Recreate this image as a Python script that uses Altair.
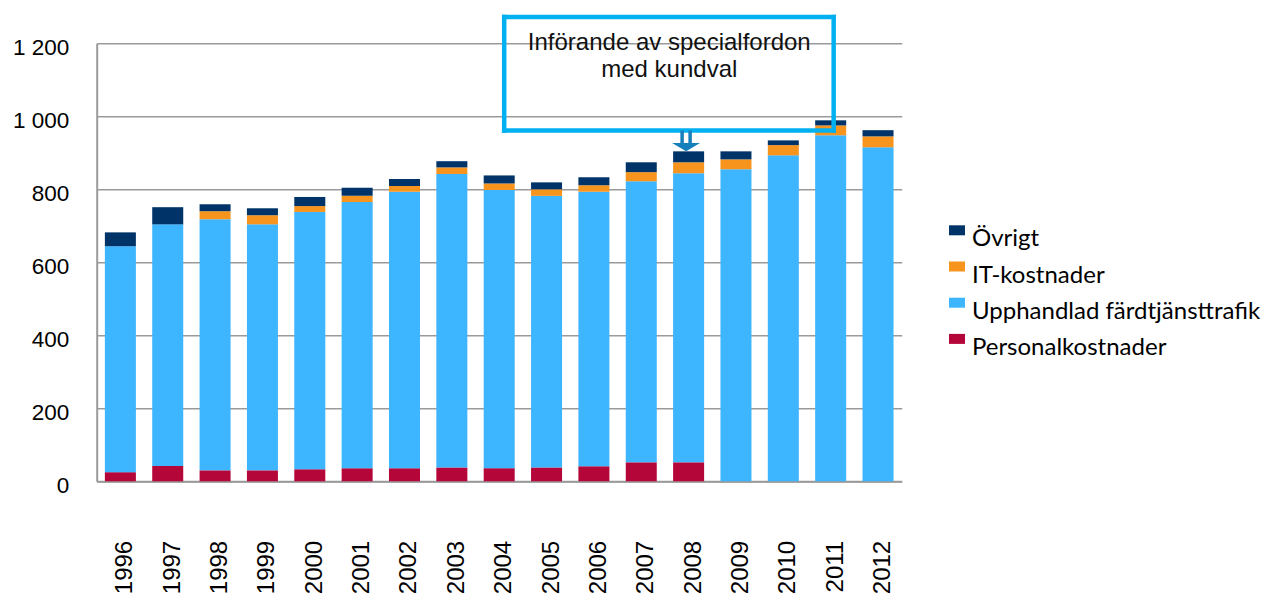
import altair as alt
import pandas as pd

years = [str(y) for y in range(1996, 2013)]
personal = [25, 42, 30, 30, 33, 36, 36, 38, 36, 38, 41, 52, 52, 0, 0, 0, 0]
upphandlad = [619, 662, 688, 674, 705, 729, 757, 804, 762, 744, 752, 770, 792, 855, 893, 948, 915]
it_kostnader = [0, 0, 22, 25, 16, 17, 16, 18, 18, 18, 18, 25, 30, 27, 28, 27, 30]
ovrigt = [38, 47, 19, 19, 25, 22, 19, 17, 22, 19, 22, 27, 30, 22, 13, 14, 17]

categories = ["Övrigt", "IT-kostnader", "Upphandlad färdtjänsttrafik", "Personalkostnader"]
colors = ["#003468", "#F7941E", "#3DB5FF", "#B5063A"]
y_ticks = [0, 200, 400, 600, 800, 1000, 1200]
note_lines = ["Införande av specialfordon", "med kundval"]

series = [
    ("Personalkostnader", personal, 0),
    ("Upphandlad färdtjänsttrafik", upphandlad, 1),
    ("IT-kostnader", it_kostnader, 2),
    ("Övrigt", ovrigt, 3),
]
rows = []
for i, yr in enumerate(years):
    for cat, vals, o in series:
        rows.append({"year": yr, "cat": cat, "value": vals[i], "ord": o})
df = pd.DataFrame(rows)

GRAY = "#9a9a9a"
BOX = "#00B0F0"
ARROW = "#1680BC"

x_enc = alt.X(
    "year:N",
    sort=years,
    scale=alt.Scale(domain=years, paddingInner=0.345, paddingOuter=0.1725),
    title=None,
    axis=alt.Axis(
        labelAngle=270,
        labelFont="Liberation Sans",
        labelFontSize=24,
        labelColor="#000000",
        labelPadding=59,
        labelOffset=5,
        ticks=False,
        domain=True,
        domainColor=GRAY,
        domainWidth=2,
        grid=False,
    ),
)

bars = alt.Chart(df).mark_bar().encode(
    x=x_enc,
    y=alt.Y(
        "value:Q",
        stack="zero",
        scale=alt.Scale(domain=[0, 1200], nice=False),
        title=None,
        axis=alt.Axis(
            values=y_ticks,
            labelExpr="replace(format(datum.value, ','), ',', ' ')",
            labelFont="Liberation Sans",
            labelFontSize=22.5,
            labelColor="#000000",
            labelPadding=28,
            labelOffset=4,
            ticks=False,
            domain=True,
            domainColor=GRAY,
            domainWidth=2,
            grid=True,
            gridColor=GRAY,
            gridWidth=1.5,
        ),
    ),
    color=alt.Color(
        "cat:N",
        sort=categories,
        scale=alt.Scale(domain=categories, range=colors),
        legend=alt.Legend(
            title=None,
            orient="none",
            legendX=848.3,
            legendY=184,
            symbolType="M-1,-1.75H1V-0.5H-1Z",
            symbolSize=256,
            symbolStrokeWidth=0,
            labelFont="Lato",
            labelFontSize=24,
            labelColor="#000000",
            labelOffset=3,
            rowPadding=10.2,
            padding=0,
            labelLimit=400,
        ),
    ),
    order=alt.Order("ord:Q", sort="ascending"),
)

box_df = pd.DataFrame({"year": ["2004"], "year2": ["2011"], "ytop": [1272], "ybot": [961]})
right_df = pd.DataFrame({"year": ["2011"], "ytop": [1272], "ybot": [961]})

box_top = alt.Chart(box_df).mark_rule(
    color=BOX, strokeWidth=4.5, xOffset=5, x2Offset=3, strokeCap="square"
).encode(x=alt.X("year:N", title=None), x2="year2", y=alt.Y("ytop:Q", title=None))
box_bot = alt.Chart(box_df).mark_rule(
    color=BOX, strokeWidth=4.5, xOffset=5, x2Offset=3, strokeCap="square"
).encode(x=alt.X("year:N", title=None), x2="year2", y=alt.Y("ybot:Q", title=None))
box_left = alt.Chart(box_df).mark_rule(
    color=BOX, strokeWidth=4.5, xOffset=5, strokeCap="square"
).encode(x=alt.X("year:N", title=None), y=alt.Y("ytop:Q", title=None), y2="ybot")
box_right = alt.Chart(right_df).mark_rule(
    color=BOX, strokeWidth=4.5, xOffset=3, strokeCap="square"
).encode(x=alt.X("year:N", title=None), y=alt.Y("ytop:Q", title=None), y2="ybot")

text_df = pd.DataFrame({"year": ["2007", "2007"], "line": note_lines, "yv": [1181, 1108]})
note = alt.Chart(text_df).mark_text(
    font="Liberation Sans", fontSize=24, align="center", baseline="alphabetic",
    xOffset=28, color="#111111"
).encode(x=alt.X("year:N", title=None), y=alt.Y("yv:Q", title=None), text="line:N")

shaft_df = pd.DataFrame({"year": ["2008"], "y1": [961], "y2": [921]})
shaft1 = alt.Chart(shaft_df).mark_rule(color=ARROW, strokeWidth=3.5, xOffset=-6.5).encode(
    x=alt.X("year:N", title=None), y=alt.Y("y1:Q", title=None), y2="y2"
)
shaft2 = alt.Chart(shaft_df).mark_rule(color=ARROW, strokeWidth=3.5, xOffset=1.5).encode(
    x=alt.X("year:N", title=None), y=alt.Y("y1:Q", title=None), y2="y2"
)
head_df = pd.DataFrame({"year": ["2008"], "yv": [915.6]})
head = alt.Chart(head_df).mark_point(
    shape="M-1,-0.3L1,-0.3L0,0.3Z", size=784, filled=True, color=ARROW,
    opacity=1, strokeWidth=0, xOffset=-2.5
).encode(x=alt.X("year:N", title=None), y=alt.Y("yv:Q", title=None))

chart = alt.layer(
    bars, box_top, box_bot, box_left, box_right, note, shaft1, shaft2, head
).properties(
    width=805,
    height=438,
    autosize=alt.AutoSizeParams(type="none"),
    padding={"left": 88.7, "top": 35.3, "right": 363.3, "bottom": 112.7},
    background="#ffffff",
).configure_view(stroke=None)

chart.save("out.html", embed_options={"renderer": "svg", "actions": False})
